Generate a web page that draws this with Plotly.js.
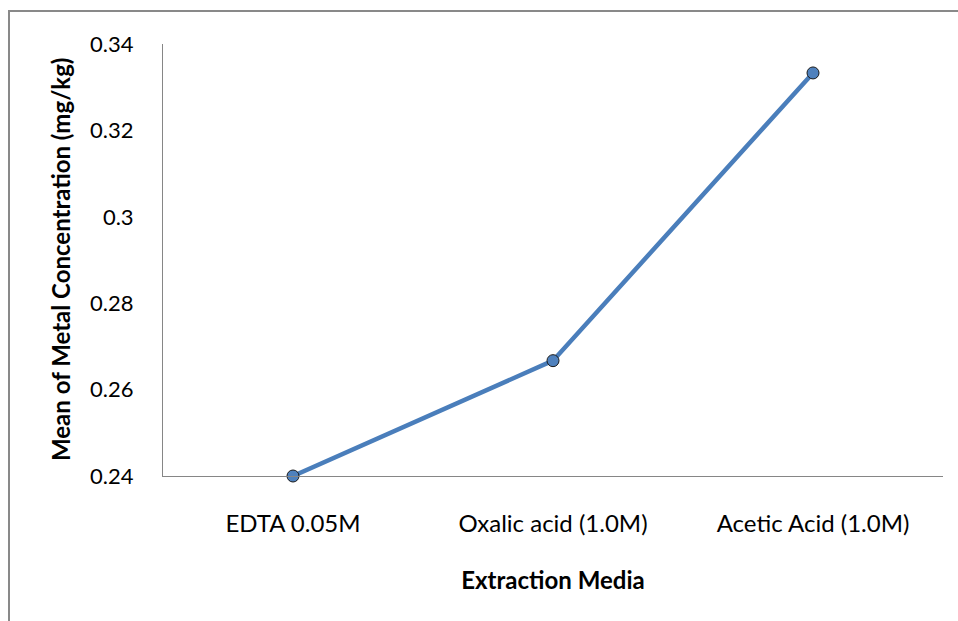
<!DOCTYPE html>
<html>
<head>
<meta charset="utf-8">
<script src="https://cdn.plot.ly/plotly-3.0.1.min.js"></script>
<style>
html,body{margin:0;padding:0;background:#fff;overflow:hidden;}
#chart{width:958px;height:621px;}
#frame{position:absolute;left:8px;top:10px;width:1200px;height:1200px;border:2px solid #898989;pointer-events:none;}
</style>
</head>
<body>
<div id="chart"></div>
<div id="frame"></div>
<script>
const categories = ["EDTA 0.05M", "Oxalic acid (1.0M)", "Acetic Acid (1.0M)"];
const meanValues = [0.24, 0.2667, 0.3333];
const yTickValues = [0.24, 0.26, 0.28, 0.30, 0.32, 0.34];
const yTickLabels = ["0.24", "0.26", "0.28", "0.3", "0.32", "0.34"];
const xTitle = "Extraction Media";
const yTitle = "Mean of Metal Concentration (mg/kg)";

const trace = {
  x: categories,
  y: meanValues,
  type: "scatter",
  mode: "lines+markers",
  line: {color: "#4A7EBB", width: 4.5},
  marker: {size: 12, color: "#4F81BD", line: {color: "#1a1a1a", width: 1}},
  cliponaxis: false,
  hoverinfo: "x+y"
};

const layout = {
  width: 958,
  height: 621,
  margin: {l: 163, r: 15, t: 44, b: 145},
  paper_bgcolor: "#ffffff",
  plot_bgcolor: "#ffffff",
  showlegend: false,
  font: {family: "Lato, 'Open Sans', sans-serif", color: "#000", size: 22},
  xaxis: {
    type: "category",
    range: [-0.5, 2.5],
    showgrid: false,
    zeroline: false,
    showline: true,
    linecolor: "#868686",
    linewidth: 1,
    ticks: "",
    ticklabelstandoff: 26,
    tickfont: {size: 24, color: "#000"},
    title: {text: xTitle, font: {size: 24, color: "#000", weight: "bold"}, standoff: 36}
  },
  yaxis: {
    range: [0.24, 0.34],
    tickvals: yTickValues,
    ticktext: yTickLabels,
    showgrid: false,
    zeroline: false,
    showline: true,
    linecolor: "#868686",
    linewidth: 1,
    ticks: "",
    ticklabelstandoff: 24,
    tickfont: {size: 22, color: "#000"},
    title: {text: ""}
  },
  annotations: [{
    text: yTitle,
    xref: "paper", yref: "paper",
    x: 0, y: 0.5,
    xanchor: "center", yanchor: "middle",
    xshift: -103,
    textangle: -90,
    showarrow: false,
    font: {size: 24, color: "#000", weight: "bold"}
  }]
};

Plotly.newPlot("chart", [trace], layout, {displayModeBar: false, staticPlot: true});
</script>
</body>
</html>
